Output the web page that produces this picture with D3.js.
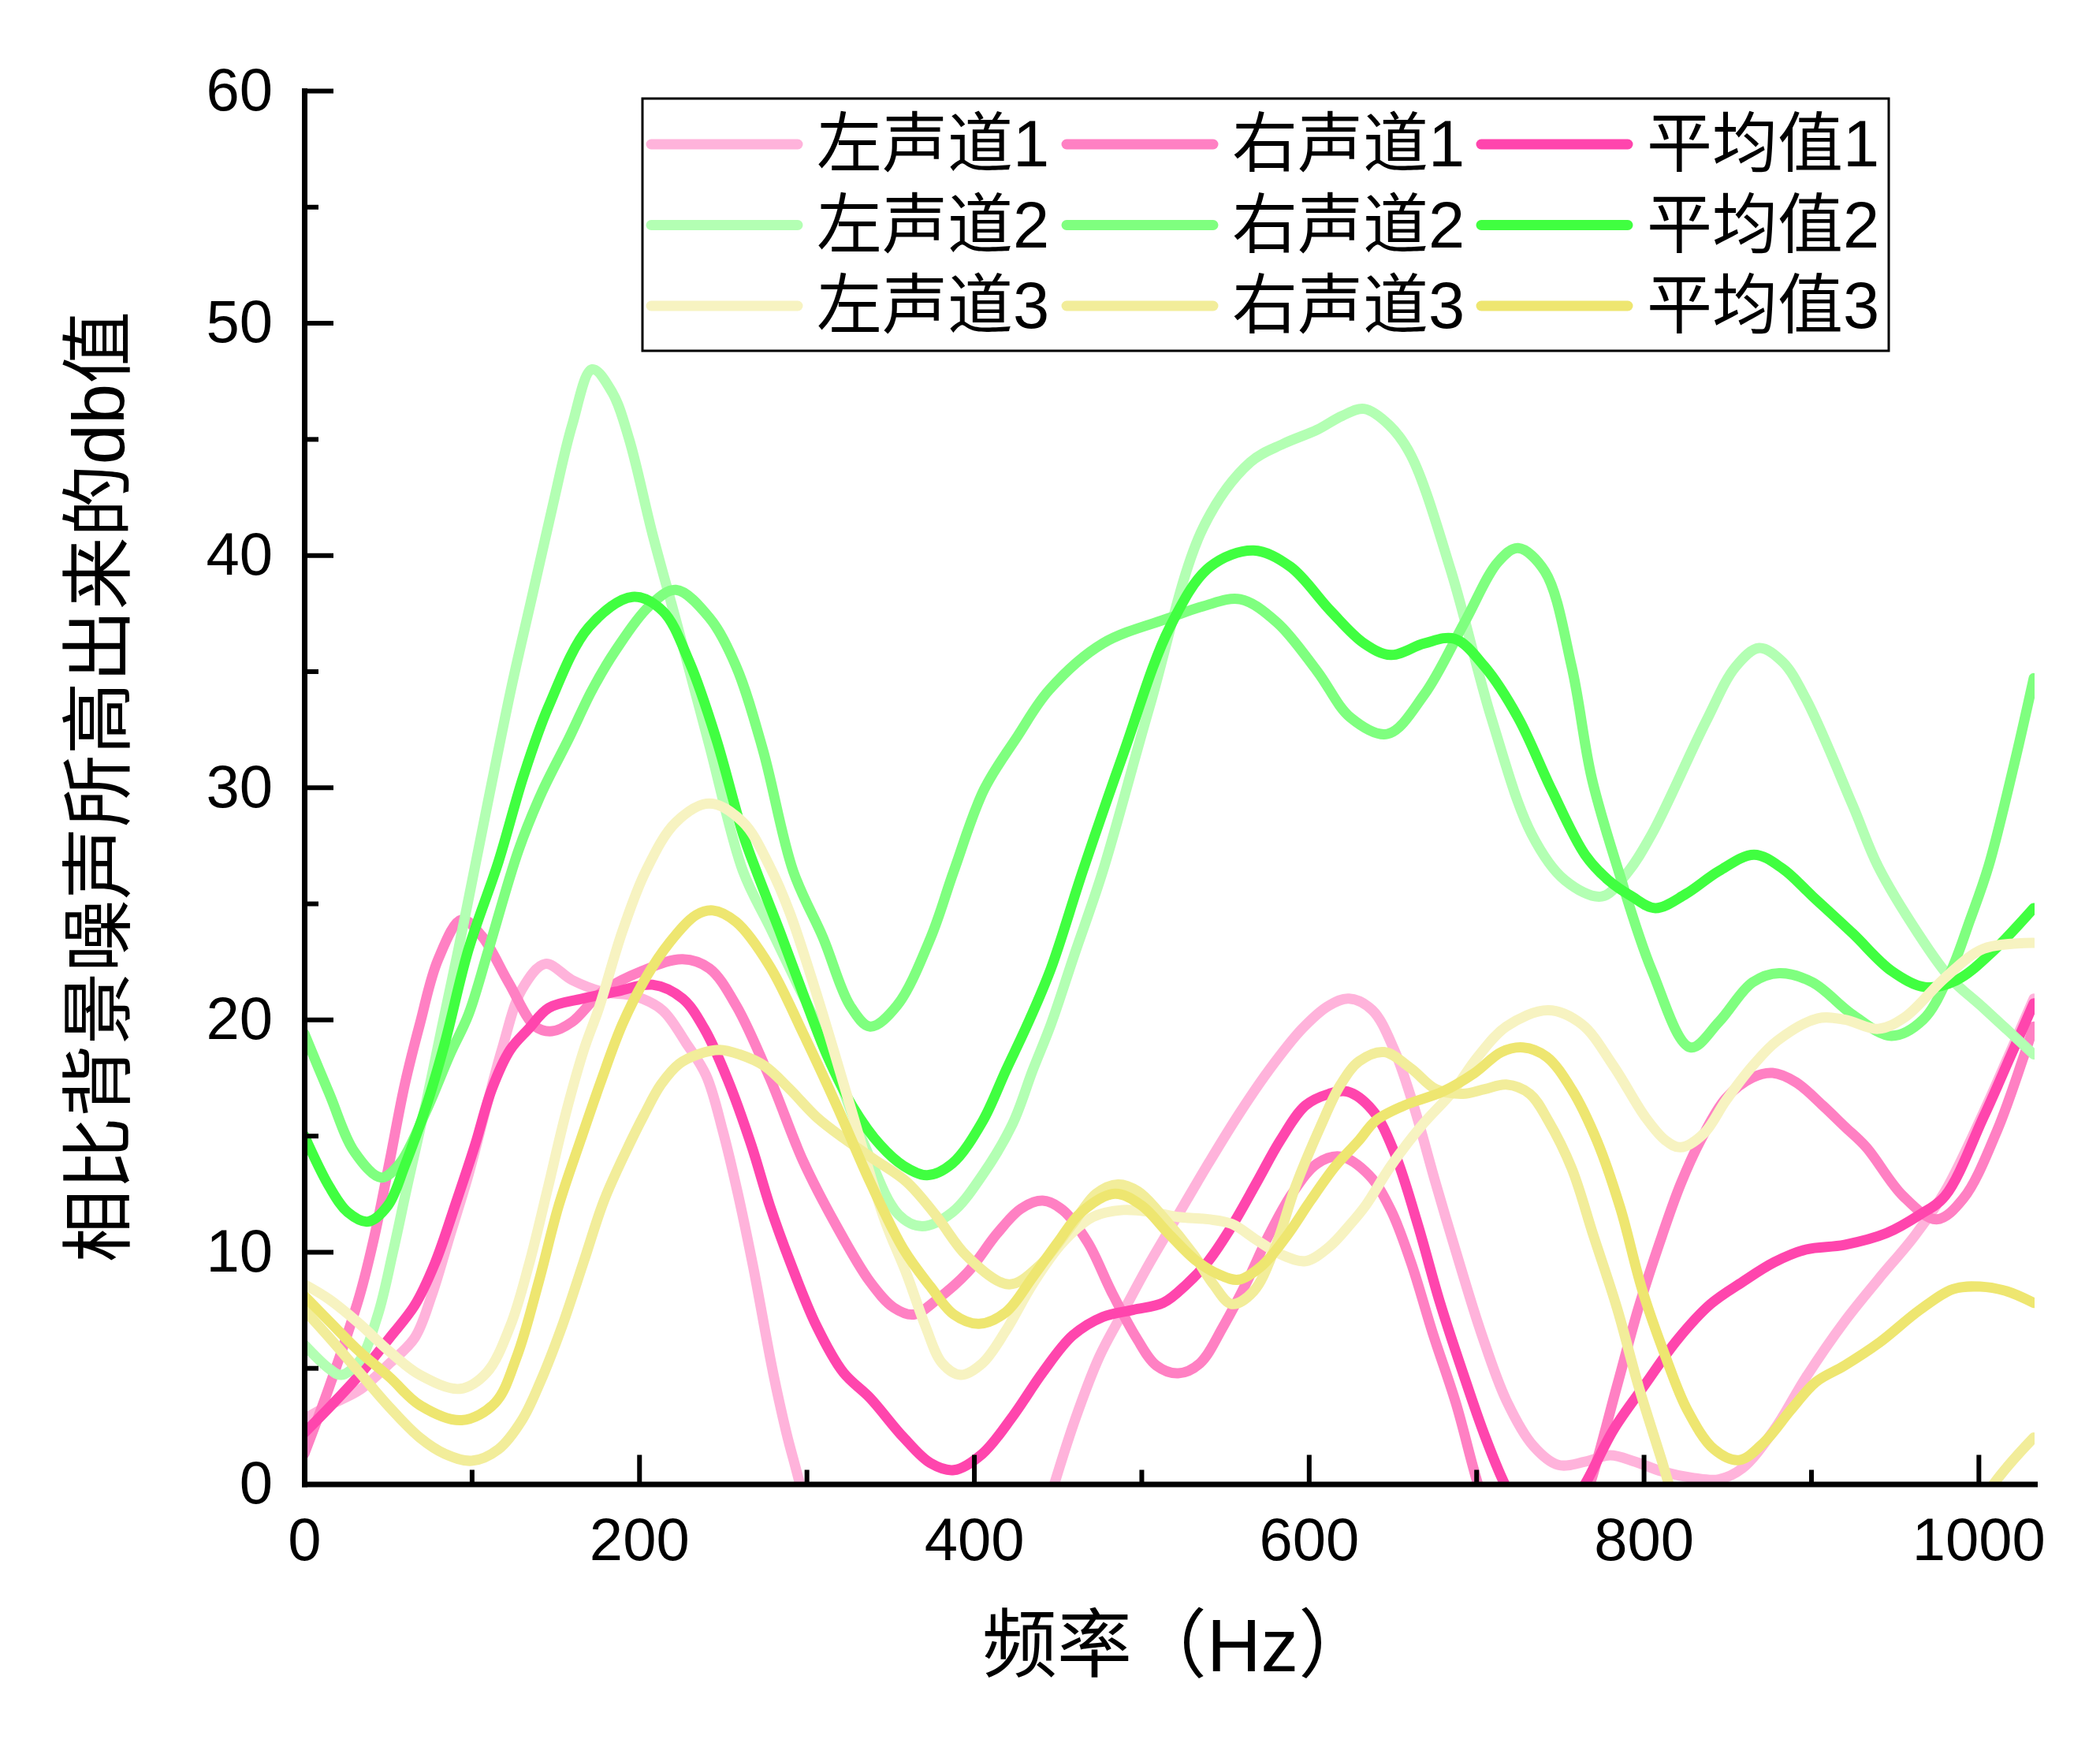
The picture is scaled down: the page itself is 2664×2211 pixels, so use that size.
<!DOCTYPE html>
<html><head><meta charset="utf-8">
<script src="https://cdn.jsdelivr.net/npm/d3@7"></script>
<style>body{margin:0;background:#fff}</style>
</head><body><svg id="c" width="2664" height="2211"></svg>
<script>
// ---------- data ----------
const groupNames = ["左声道", "右声道", "平均值"];
const xMajorTicks = [0, 200, 400, 600, 800, 1000];
const xMinorTicks = [100, 300, 500, 700, 900];
const yMajorTicks = [0, 10, 20, 30, 40, 50, 60];
const yMinorTicks = [5, 15, 25, 35, 45, 55];
const xTitle = "频率（Hz）";
const yTitle = "相比背景噪声所高出来的db值";

const zuo1 = [[0,2.8],[15,3.4],[33,4.05],[51,5.2],[66,6.3],[76,8.1],[87,10.7],[98,13.3],[109,16.3],[118,18.7],[130,21.3],[144,22.4],[160,21.7],[178,21.2],[198,21.0],[214,20.4],[228,19.0],[240,17.6],[250,15.2],[259,12.5],[268,9.4],[280,4.8],[288,2.2],[296,0],[310,-4.5],[340,-10.5],[372,-13],[405,-10],[430,-4.5],[448,0],[461,2.9],[475,5.5],[489,7.4],[504,9.4],[522,11.6],[540,13.8],[558,15.9],[576,17.8],[596,19.6],[612,20.6],[624,20.9],[638,20.4],[651,18.7],[663,16.2],[676,12.9],[690,9.5],[703,6.5],[718,3.6],[734,1.65],[749,0.82],[765,0.96],[780,1.24],[795,0.96],[811,0.54],[830,0.26],[845,0.2],[859,0.68],[878,2.34],[897,4.6],[920,7.0],[940,8.8],[962,10.7],[980,12.6],[1003,16.0],[1019,18.6],[1033,20.9]];
const you1 = [[0,1.3],[15,4.2],[33,8.1],[42,10.7],[51,13.9],[60,17.2],[69,19.8],[80,22.6],[94,24.3],[106,23.6],[122,21.6],[138,19.7],[148,19.5],[160,19.9],[178,21.2],[202,22.1],[226,22.6],[242,22.2],[258,20.6],[278,17.5],[298,13.9],[318,11.1],[338,8.7],[352,7.6],[364,7.3],[378,7.95],[396,9.1],[414,10.8],[428,11.85],[441,12.2],[453,11.8],[468,10.4],[482,8.3],[497,6.3],[509,5.1],[522,4.77],[535,5.2],[549,6.8],[563,8.7],[576,10.7],[590,12.5],[605,13.8],[619,14.1],[636,13.3],[649,11.8],[661,9.55],[674,6.5],[688,3.45],[701,0],[715,-3],[734,-4.4],[753,-3],[768,0],[784,4.2],[797,7.6],[811,10.7],[822,12.9],[834,14.8],[849,16.6],[865,17.5],[877,17.7],[891,17.3],[907,16.3],[920,15.4],[933,14.5],[955,12.4],[975,11.4],[991,12.3],[1011,15.2],[1027,18.4],[1033,19.7]];
const ping1 = [[0,2.2],[15,3.3],[33,4.7],[51,6.3],[66,7.7],[78,9.5],[91,12.2],[102,14.6],[112,17.0],[123,18.7],[134,19.6],[146,20.5],[166,20.9],[186,21.2],[208,21.5],[226,20.9],[239,19.6],[253,17.4],[267,14.6],[278,12.0],[290,9.6],[306,6.8],[322,4.8],[338,3.7],[358,2.0],[374,0.9],[388,0.6],[405,1.3],[423,2.9],[441,4.8],[459,6.4],[477,7.2],[495,7.5],[513,7.8],[527,8.6],[540,9.6],[554,11.1],[569,13.0],[583,14.8],[598,16.3],[612,16.8],[623,16.9],[638,16.1],[651,14.3],[665,11.2],[678,7.9],[692,4.8],[705,2.1],[717,0],[728,-1.4],[740,-1.9],[752,-1.4],[765,0],[782,2.34],[801,4.3],[820,6.2],[840,7.75],[859,8.7],[878,9.55],[897,10.1],[920,10.3],[945,10.8],[965,11.6],[980,12.4],[1003,15.8],[1019,18.4],[1033,20.7]];
const zuo2 = [[0,6.0],[15,4.96],[22,4.7],[33,5.3],[44,7.3],[53,10.0],[62,13.0],[73,16.5],[82,19.6],[92,23.0],[102,26.6],[112,30.2],[124,34.4],[136,38.2],[148,42.0],[160,45.6],[172,48.0],[184,47.0],[194,45.0],[208,40.9],[222,37.2],[242,31.8],[262,26.4],[278,24.0],[294,21.6],[310,19.2],[334,14.7],[355,11.6],[369,11.1],[387,11.7],[405,13.3],[423,15.5],[435,17.8],[446,19.8],[460,22.8],[477,26.4],[505,33.5],[537,41.2],[565,44.0],[585,44.8],[605,45.4],[620,46.0],[633,46.3],[648,45.6],[661,44.3],[685,39.3],[709,33.0],[733,28.0],[753,26.0],[775,25.3],[790,26.3],[805,28.0],[837,32.8],[855,35.2],[869,36.0],[883,35.4],[897,33.8],[925,29.2],[940,26.6],[964,23.7],[983,21.8],[1003,20.5],[1033,18.5]];
const you2 = [[0,19.4],[15,16.8],[30,14.3],[46,13.2],[57,13.8],[73,16.1],[87,18.5],[98,20.2],[110,23.0],[128,27.3],[142,29.8],[158,32.1],[172,34.2],[186,35.9],[206,37.8],[222,38.5],[242,37.3],[258,35.2],[274,31.6],[292,26.4],[310,23.5],[326,20.6],[338,19.7],[354,20.6],[374,23.5],[388,26.4],[406,29.9],[426,32.2],[445,34.2],[477,36.2],[517,37.3],[537,37.8],[559,38.1],[581,37.1],[605,35.0],[625,33.0],[647,32.3],[669,34.0],[693,37.1],[713,39.7],[725,40.3],[741,39.3],[757,35.2],[769,30.4],[785,26.4],[805,22.1],[828,18.8],[845,19.9],[865,21.6],[881,22.0],[901,21.6],[925,20.2],[948,19.3],[967,20.0],[983,22.0],[995,24.3],[1006,26.6],[1021,30.9],[1033,34.7]];
const ping2 = [[0,15.0],[15,12.8],[26,11.7],[38,11.3],[50,12.0],[60,13.7],[73,16.3],[84,19.0],[98,23.0],[116,26.8],[131,30.5],[146,33.5],[170,36.9],[196,38.2],[214,37.6],[230,35.4],[246,32.1],[262,28.0],[270,26.4],[284,23.8],[298,21.1],[312,18.5],[328,16.2],[344,14.6],[358,13.7],[372,13.3],[387,13.8],[405,15.6],[419,17.8],[432,19.8],[446,22.2],[465,26.4],[489,31.4],[517,36.9],[541,39.5],[567,40.2],[589,39.5],[613,37.6],[633,36.2],[649,35.7],[669,36.2],[687,36.4],[705,35.2],[725,33.0],[745,29.9],[765,27.1],[779,26.0],[793,25.3],[807,24.8],[825,25.4],[845,26.4],[866,27.1],[883,26.5],[901,25.3],[925,23.7],[948,22.1],[968,21.4],[987,21.7],[1008,22.9],[1033,24.8]];
const zuo3 = [[0,8.6],[15,7.95],[33,6.9],[51,5.7],[69,4.7],[93,4.1],[109,4.8],[123,6.8],[134,9.4],[145,12.6],[156,15.9],[167,18.7],[176,20.5],[190,23.8],[204,26.4],[222,28.5],[242,29.3],[262,28.5],[278,26.6],[290,24.6],[306,21.1],[326,16.3],[346,11.5],[360,9.0],[371,6.8],[381,5.2],[392,4.7],[405,5.2],[419,6.6],[435,8.6],[453,10.4],[471,11.5],[489,11.8],[507,11.7],[522,11.5],[540,11.4],[554,11.2],[569,10.5],[583,9.9],[598,9.6],[612,10.2],[625,11.2],[634,12.0],[649,13.7],[667,15.4],[686,16.9],[701,18.4],[718,19.7],[743,20.4],[763,19.8],[782,18.0],[801,15.8],[813,14.8],[822,14.5],[836,15.1],[849,16.5],[865,18.0],[880,19.1],[904,20.05],[920,20.0],[940,19.6],[956,20.1],[980,21.8],[1003,23.05],[1033,23.3]];
const you3 = [[0,7.5],[15,6.3],[33,4.8],[51,3.3],[69,2.0],[84,1.3],[100,1.0],[116,1.5],[130,2.75],[141,4.4],[154,6.8],[167,9.6],[179,12.2],[192,14.3],[203,15.9],[213,17.2],[224,18.1],[235,18.5],[248,18.7],[260,18.5],[275,18.0],[290,17.0],[306,15.8],[322,14.9],[340,14.0],[360,13.0],[378,11.5],[396,9.8],[421,8.6],[439,9.4],[459,11.2],[473,12.5],[486,12.9],[498,12.6],[513,11.5],[531,9.9],[543,8.6],[554,7.75],[567,8.3],[580,10.2],[592,12.8],[607,15.4],[619,17.2],[630,18.2],[645,18.6],[661,17.9],[676,17.0],[692,16.8],[705,17.0],[718,17.2],[732,16.8],[743,15.65],[757,13.6],[770,10.7],[784,7.6],[797,4.2],[811,0.97],[815,0],[830,-3.5],[860,-7.5],[900,-9],[940,-7.5],[975,-4],[1009,0],[1033,2.0]];
const ping3 = [[0,8.1],[15,7.0],[33,5.7],[51,4.6],[69,3.4],[94,2.75],[114,3.5],[127,5.5],[140,8.7],[152,12.0],[165,14.8],[177,17.3],[190,19.8],[204,21.8],[218,23.3],[234,24.5],[244,24.7],[258,24.2],[278,22.3],[298,19.4],[318,16.3],[338,13.0],[358,10.1],[374,8.5],[388,7.3],[403,6.9],[419,7.4],[435,8.9],[450,10.4],[464,11.7],[484,12.5],[500,12.0],[516,10.8],[533,9.6],[547,9.0],[558,8.8],[572,9.4],[587,10.7],[601,12.2],[616,13.7],[630,14.8],[640,15.65],[657,16.3],[680,16.9],[699,17.7],[715,18.6],[728,18.8],[742,18.4],[757,17.0],[772,14.8],[786,11.9],[799,8.4],[813,5.5],[826,3.2],[842,1.5],[857,1.03],[872,1.8],[888,3.2],[903,4.4],[920,5.1],[941,6.1],[965,7.5],[985,8.4],[1001,8.5],[1017,8.3],[1033,7.8]];

const seriesData = [zuo1, you1, ping1, zuo2, you2, ping2, zuo3, you3, ping3];
const seriesNames = ["左声道1","右声道1","平均值1","左声道2","右声道2","平均值2","左声道3","右声道3","平均值3"];
const seriesColors = ["#FFB3DB","#FF80C3","#FF45AD","#B3FFB3","#7FFF7F","#40FF40","#F7F3C1","#F2ED9A","#EEE670"];

// ---------- layout ----------
const FONT = '"Liberation Sans", Arial, "Noto Sans CJK SC", sans-serif';
const L = 386, R = 2581, T = 115, B = 1882.5;
const svg = d3.select("#c");
const x = d3.scaleLinear().domain([0, 1033.5]).range([L, R]);
const y = d3.scaleLinear().domain([0, 60]).range([B, T]);

svg.append("defs").append("clipPath").attr("id","plotclip")
  .append("rect").attr("x", L).attr("y", T).attr("width", R - L).attr("height", B - T);

const line = d3.line().x(d => x(d[0])).y(d => y(d[1])).curve(d3.curveCatmullRom.alpha(0.5));
const gLines = svg.append("g").attr("clip-path", "url(#plotclip)");
seriesData.forEach((s, i) => {
  gLines.append("path").attr("d", line(s)).attr("fill","none")
    .attr("stroke", seriesColors[i]).attr("stroke-width", 13)
    .attr("stroke-linejoin","round").attr("stroke-linecap","round");
});

// axes
function styleAxis(g, fs) {
  g.selectAll(".domain").attr("stroke","#000").attr("stroke-width",7).attr("stroke-linecap","square");
  g.selectAll(".tick line").attr("stroke","#000").attr("stroke-width",6);
  g.selectAll(".tick text").attr("fill","#000").style("font-family", FONT).style("font-size", fs + "px");
}
const gxMinor = svg.append("g").attr("transform",`translate(0,${B})`)
  .call(d3.axisBottom(x).tickValues(xMinorTicks).tickSize(-18).tickFormat(""));
gxMinor.select(".domain").remove();
styleAxis(gxMinor, 75);
const gyMinor = svg.append("g").attr("transform",`translate(${L},0)`)
  .call(d3.axisLeft(y).tickValues(yMinorTicks).tickSize(-18).tickFormat(""));
gyMinor.select(".domain").remove();
styleAxis(gyMinor, 75);

const gx = svg.append("g").attr("transform",`translate(0,${B})`)
  .call(d3.axisBottom(x).tickValues(xMajorTicks).tickSize(-37).tickSizeOuter(0).tickPadding(43).tickFormat(d3.format("d")));
styleAxis(gx, 76);
const gy = svg.append("g").attr("transform",`translate(${L},0)`)
  .call(d3.axisLeft(y).tickValues(yMajorTicks).tickSize(-37).tickSizeOuter(0).tickPadding(40).tickFormat(d3.format("d")));
styleAxis(gy, 76);

// titles
svg.append("text").attr("x", 1494).attr("y", 2120).attr("text-anchor","middle")
  .style("font-family", FONT).style("font-size","95px").attr("fill","#000").text(xTitle);
svg.append("text").attr("transform","translate(125,998) rotate(-90)")
  .attr("text-anchor","middle").attr("dominant-baseline","central")
  .style("font-family", FONT).style("font-size","92px").attr("fill","#000").text(yTitle);

// legend
const lg = svg.append("g");
lg.append("rect").attr("x",815).attr("y",125).attr("width",1581).attr("height",320)
  .attr("fill","#fff").attr("stroke","#000").attr("stroke-width",3);
const colX = [820, 1347, 1873], rowY = [183, 285.5, 388];
for (let r = 0; r < 3; r++) {
  for (let c = 0; c < 3; c++) {
    const idx = r * 3 + c;
    lg.append("line").attr("x1", colX[c] + 6).attr("x2", colX[c] + 192)
      .attr("y1", rowY[r]).attr("y2", rowY[r])
      .attr("stroke", seriesColors[idx]).attr("stroke-width", 13).attr("stroke-linecap","round");
    lg.append("text").attr("x", colX[c] + 216).attr("y", rowY[r] + 28)
      .style("font-family", FONT).style("font-size","83px").attr("fill","#000")
      .text(groupNames[c] + (r + 1));
  }
}
</script></body></html>
